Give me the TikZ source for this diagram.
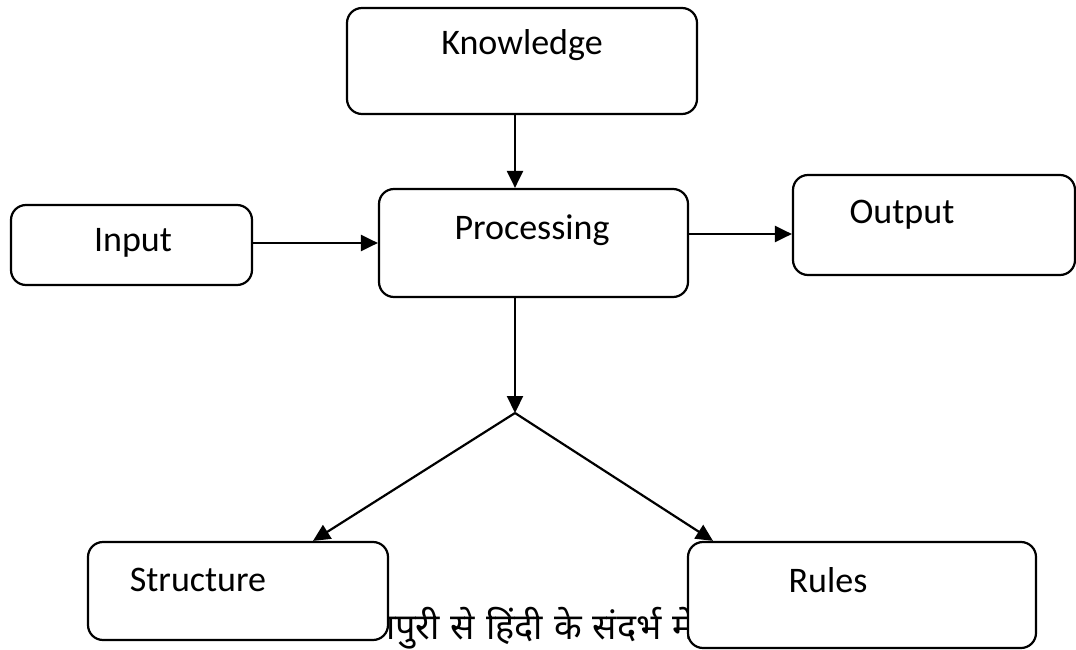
\documentclass[tikz,border=0pt]{standalone}
\usepackage{fontspec}
\setmainfont{Carlito}
\newfontfamily\deva[Script=Devanagari]{Noto Sans}
\usetikzlibrary{arrows.meta,calc}
\begin{document}
\begin{tikzpicture}[x=1pt,y=-1pt,
  box/.style={draw, line width=2.2pt, rounded corners=15pt, fill=white, inner sep=0pt},
  lbl/.style={font=\fontsize{36}{40}\selectfont, inner sep=0pt},
  conn/.style={line width=2.2pt, -{Triangle[length=17pt,width=16pt]}}]
\useasboundingbox (0,0) rectangle (1076,650);
% background Hindi text (partially hidden by boxes)
\node[anchor=base west, inner sep=0pt, font=\deva\fontsize{36}{44}\selectfont] (hindi) at (375,639) {\spaceskip=11pt गपुरी से हिंदी के संदर्भ में};
% boxes
\node[box, minimum width=350pt, minimum height=106pt] (know) at (522,61) {};
\node[lbl] (knowt) at (522,45) {Knowledge};
\node[box, minimum width=309pt, minimum height=108pt] (proc) at (533.5,243) {};
\node[lbl] (proct) at (532,230) {Processing};
\node[box, minimum width=241pt, minimum height=80pt] (inp) at (131.5,245) {};
\node[lbl] (inpt) at (133,243) {Input};
\node[box, minimum width=282pt, minimum height=100pt] (outp) at (934,225) {};
\node[lbl] (outpt) at (902,215) {Output};
\node[box, minimum width=300pt, minimum height=98pt] (struct) at (238,591) {};
\node[lbl] (structt) at (198,580) {Structure};
\node[box, minimum width=348pt, minimum height=106pt] (rules) at (862,595) {};
\node[lbl] (rulest) at (828,580) {Rules};
% connectors
\coordinate (j) at (515,413);
\draw[conn] (know.south -| j) -- (proc.north -| j);
\draw[conn] (inp.east |- 0,243) -- (proc.west |- 0,243);
\draw[conn] (proc.east |- 0,234) -- (outp.west |- 0,234);
\draw[conn] (proc.south -| j) -- (j);
\draw[conn, line join=round] (j) -- ([xshift=75pt]struct.north);
\draw[conn, line join=round] (j) -- ([xshift=-149pt]rules.north);
\end{tikzpicture}
\end{document}
